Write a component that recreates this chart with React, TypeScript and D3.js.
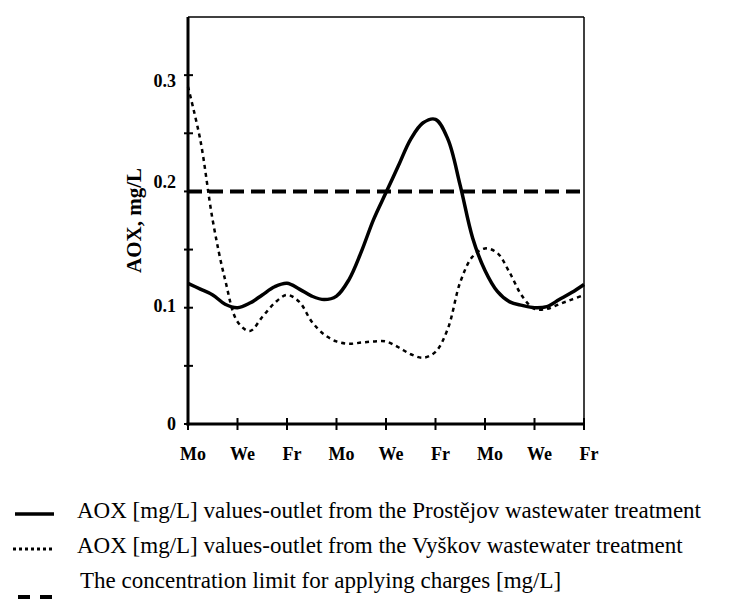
import React from "react";
import * as d3 from "d3";

// Category axis labels (one tick per label)
const dayLabels = ["Mo", "We", "Fr", "Mo", "We", "Fr", "Mo", "We", "Fr"];

// Y ticks
const yTicks = [0, 0.05, 0.1, 0.15, 0.2, 0.25, 0.3];
const yTickLabels = ["0", "", "0.1", "", "0.2", "", "0.3"];

// Readings sampled every quarter of a category step (positions 0, 0.25, 0.5, ... 8)
const prostejov = [
  0.121, 0.116, 0.111, 0.103, 0.1, 0.104, 0.111, 0.118, 0.121, 0.116, 0.11,
  0.107, 0.11, 0.124, 0.148, 0.176, 0.199, 0.222, 0.245, 0.259, 0.262, 0.245,
  0.205, 0.16, 0.132, 0.114, 0.105, 0.102, 0.1, 0.101, 0.107, 0.113, 0.12,
];
const vyskov = [
  0.29, 0.244, 0.175, 0.124, 0.088, 0.08, 0.092, 0.104, 0.111, 0.105, 0.088,
  0.077, 0.071, 0.069, 0.07, 0.071, 0.071, 0.066, 0.06, 0.057, 0.062, 0.082,
  0.122, 0.144, 0.151, 0.147, 0.13, 0.11, 0.099, 0.099, 0.103, 0.107, 0.111,
];
const limitValue = 0.2;

const legendLabels = [
  "AOX [mg/L] values-outlet from the Prostějov wastewater treatment",
  "AOX [mg/L] values-outlet from the Vyškov wastewater treatment",
  "The concentration limit for applying charges [mg/L]",
];

const W = 731;
const H = 607;
const plot = { left: 188, right: 584, top: 17, bottom: 424 };
const serif = "'Liberation Serif', 'Times New Roman', serif";
// small vertical nudges of the y tick labels, as placed in the original figure
const yLabelNudge = [0, 0, -2, 0, -10, 0, 6];

export default function App() {
  const x = d3.scaleLinear().domain([0, dayLabels.length - 1]).range([plot.left, plot.right]);
  const y = d3.scaleLinear().domain([0, 0.35]).range([plot.bottom, plot.top]);
  const line = d3
    .line<number>()
    .x((_, i) => x(i / 4))
    .y((d) => y(d))
    .curve(d3.curveCatmullRom.alpha(0.5));

  return (
    <svg
      width={W}
      height={H}
      style={{ position: "absolute", left: 0, top: 0, background: "#fff" }}
      fontFamily={serif}
    >
      <rect x={0} y={0} width={W} height={H} fill="#fff" />
      {/* frame top/right */}
      <line x1={plot.left} x2={plot.right} y1={plot.top} y2={plot.top} stroke="#000" strokeWidth={1.5} />
      <line x1={plot.right} x2={plot.right} y1={plot.top} y2={plot.bottom} stroke="#000" strokeWidth={1.5} />

      {/* limit line */}
      <line
        x1={plot.left}
        x2={plot.right}
        y1={y(limitValue)}
        y2={y(limitValue)}
        stroke="#000"
        strokeWidth={4}
        strokeDasharray="14,7"
      />
      {/* series */}
      <path d={line(vyskov) || ""} fill="none" stroke="#000" strokeWidth={2.5} strokeDasharray="4,4" />
      <path d={line(prostejov) || ""} fill="none" stroke="#000" strokeWidth={3.5} strokeLinejoin="round" />

      {/* axes */}
      <line x1={plot.left} x2={plot.left} y1={plot.top} y2={plot.bottom + 1.5} stroke="#000" strokeWidth={3} />
      <line x1={plot.left - 1.5} x2={plot.right + 0.75} y1={plot.bottom} y2={plot.bottom} stroke="#000" strokeWidth={3} />

      {yTicks.map((t, i) => (
        <g key={"y" + i}>
          <line x1={plot.left - 4} x2={plot.left + 5} y1={y(t)} y2={y(t)} stroke="#000" strokeWidth={2} />
          {yTickLabels[i] && (
            <text
              x={plot.left - 12}
              y={y(t) + yLabelNudge[i]}
              dy="0.35em"
              textAnchor="end"
              fontWeight="bold"
              fontSize={18}
            >
              {yTickLabels[i]}
            </text>
          )}
        </g>
      ))}

      {dayLabels.map((lab, i) => (
        <g key={"x" + i}>
          <line x1={x(i)} x2={x(i)} y1={plot.bottom - 6} y2={plot.bottom + 6} stroke="#000" strokeWidth={2} />
          <text x={x(i) + 5} y={460} textAnchor="middle" fontWeight="bold" fontSize={18}>
            {lab}
          </text>
        </g>
      ))}

      <text
        transform={`translate(141, ${(plot.top + plot.bottom) / 2}) rotate(-90)`}
        textAnchor="middle"
        fontWeight="bold"
        fontSize={21}
      >
        AOX, mg/L
      </text>

      {/* legend */}
      <line x1={15} x2={54} y1={514} y2={514} stroke="#000" strokeWidth={3.5} />
      <line x1={13} x2={54} y1={549} y2={549} stroke="#000" strokeWidth={3} strokeDasharray="3,3" />
      <line x1={18} x2={53} y1={597} y2={597} stroke="#000" strokeWidth={4} strokeDasharray="12,10" />
      {legendLabels.map((lab, i) => (
        <text key={"l" + i} x={i === 2 ? 80 : 77} y={518 + i * 35} fontSize={23}>
          {lab}
        </text>
      ))}
    </svg>
  );
}
